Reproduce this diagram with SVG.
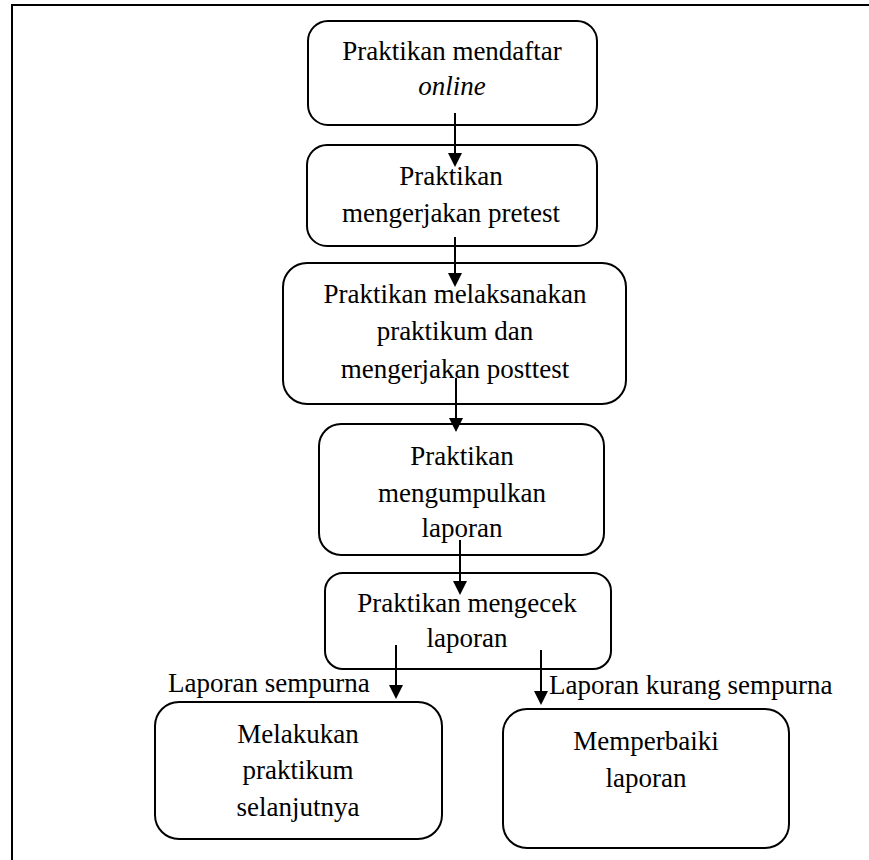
<svg xmlns="http://www.w3.org/2000/svg" width="869" height="860" viewBox="0 0 869 860">
<style>
.box{fill:#fff;stroke:#000;stroke-width:2}
text{font-family:'Liberation Serif', 'DejaVu Serif', serif;font-size:27px;fill:#000}
.t{text-anchor:middle}
.c{stroke:#000;stroke-width:2;fill:none;marker-end:url(#ah)}
</style>
<defs>
<marker id="ah" viewBox="0 0 14 14" refX="12" refY="7" markerWidth="14" markerHeight="14" markerUnits="userSpaceOnUse" orient="auto">
<path d="M0,0 L14,7 L0,14 z" fill="#000"/>
</marker>
</defs>
<rect width="869" height="860" fill="#fff"/>
<g id="frame">
<path d="M12,860 V5 H869" fill="none" stroke="#000" stroke-width="2"/>
</g>
<g id="n1">
<rect class="box" x="308" y="21" width="289" height="104" rx="20"/>
<text class="t" x="452" y="60" font-family="Liberation Serif">Praktikan mendaftar</text>
<text class="t" x="452" y="95" font-family="Liberation Serif" font-style="italic">online</text>
</g>
<g id="n2">
<rect class="box" x="307" y="145" width="290" height="101" rx="20"/>
<text class="t" x="451" y="185">Praktikan</text>
<text class="t" x="451" y="222">mengerjakan pretest</text>
</g>
<g id="n3">
<rect class="box" x="283" y="263" width="343" height="141" rx="24"/>
<text class="t" x="455" y="303">Praktikan melaksanakan</text>
<text class="t" x="455" y="340">praktikum dan</text>
<text class="t" x="455" y="378">mengerjakan posttest</text>
</g>
<g id="n4">
<rect class="box" x="319" y="424" width="285" height="131" rx="22"/>
<text class="t" x="462" y="465">Praktikan</text>
<text class="t" x="462" y="502">mengumpulkan</text>
<text class="t" x="462" y="537">laporan</text>
</g>
<g id="n5">
<rect class="box" x="325" y="573" width="286" height="96" rx="18"/>
<text class="t" x="467" y="612">Praktikan mengecek</text>
<text class="t" x="467" y="647">laporan</text>
</g>
<g id="n6">
<rect class="box" x="155" y="702" width="287" height="137" rx="24"/>
<text class="t" x="298" y="743">Melakukan</text>
<text class="t" x="298" y="779">praktikum</text>
<text class="t" x="298" y="816">selanjutnya</text>
</g>
<g id="n7">
<rect class="box" x="503" y="709" width="286" height="139" rx="24"/>
<text class="t" x="646" y="750">Memperbaiki</text>
<text class="t" x="646" y="787">laporan</text>
</g>
<g id="connectors">
<line class="c" x1="455" y1="113" x2="455" y2="165"/>
<line class="c" x1="455" y1="237" x2="455" y2="285"/>
<line class="c" x1="456" y1="378" x2="456" y2="430"/>
<line class="c" x1="460" y1="540" x2="460" y2="593"/>
<line class="c" x1="396" y1="645" x2="396" y2="697"/>
<line class="c" x1="541" y1="650" x2="541" y2="703"/>
<text x="168" y="692">Laporan sempurna</text>
<text x="549" y="694">Laporan kurang sempurna</text>
</g>
</svg>
